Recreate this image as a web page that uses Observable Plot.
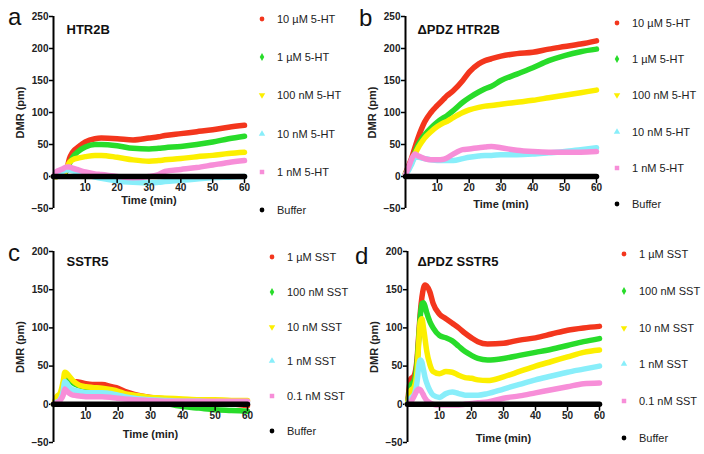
<!DOCTYPE html>
<html>
<head>
<meta charset="utf-8">
<script src="https://cdn.jsdelivr.net/npm/d3@7"></script>
<script src="https://cdn.jsdelivr.net/npm/@observablehq/plot@0.6"></script>
<style>
  body { margin: 0; background: #fff; }
  #root { position: relative; width: 704px; height: 454px; background: #fff; font-family: "Liberation Sans", Arial, sans-serif; overflow: hidden; }
  .pane { position: absolute; }
  .letter { position: absolute; font-size: 24px; line-height: 24px; color: #111; }
  .legend { position: absolute; font-size: 11px; color: #222; }
  .legend .item { display: flex; align-items: center; white-space: nowrap; }
  .legend svg { margin-right: 10px; }
</style>
</head>
<body>
<div id="root"></div>
<script>
// ---------- data ----------
const xTicks = [10, 20, 30, 40, 50, 60];
const yTicksAB = [-50, 0, 50, 100, 150, 200, 250];
const yTicksCD = [-50, 0, 50, 100, 150, 200];
const bufferTimes = [0, 60];
const bufferValues = [0, 0];

// panel a: HTR2B
const tA      = [0, 1, 2, 3, 4, 5, 6, 8, 10, 13, 15, 20, 25, 30, 33, 35, 40, 45, 50, 55, 60];
const a10uM   = [0, 0, 1, 3, 8, 28, 38, 47, 54, 59, 60, 59, 57, 60, 62, 64, 67, 70, 73, 77, 80];
const a1uM    = [0, 0, 1, 3, 9, 20, 30, 40, 46, 50, 50, 48, 44, 43, 44, 45, 47, 50, 54, 59, 63];
const a100nM  = [0, 0, 1, 3, 12, 22, 26, 29, 31, 33, 33, 30, 26, 24, 25, 26, 28, 31, 33, 36, 38];
const a10nM   = [0, 2, 5, 8, 10, 10, 9, 6, 3, -1, -3, -7, -9, -10, -9, -8, -6, -4, -2, -1, 0];
const a1nM    = [0, 8, 10, 12, 15, 15, 13, 10, 7, 4, 3, 0, -2, 0, 3, 8, 11, 14, 18, 22, 25];

// panel b: ΔPDZ HTR2B
const tB      = [0, 1, 2, 3, 4, 5, 6, 8, 10, 12, 13, 15, 18, 20, 23, 25, 27, 30, 35, 40, 45, 50, 55, 60];
const b10uM   = [5, 17, 30, 46, 61, 74, 85, 100, 111, 121, 126, 134, 150, 163, 176, 181, 184, 188, 192, 194, 199, 203, 207, 212];
const b1uM    = [4, 14, 25, 38, 50, 58, 65, 76, 85, 92, 95, 103, 116, 123, 132, 137, 141, 150, 160, 170, 181, 189, 195, 199];
const b100nM  = [4, 12, 22, 35, 45, 53, 60, 70, 78, 84, 86, 92, 100, 104, 108, 110, 111, 113, 116, 119, 123, 127, 131, 135];
const b10nM   = [3, 10, 20, 30, 30, 29, 28, 26, 25, 25, 25, 25, 28, 30, 32, 33, 33, 34, 34, 35, 37, 39, 42, 45];
const b1nM    = [3, 15, 28, 35, 32, 30, 28, 26, 26, 27, 29, 35, 42, 43, 45, 46, 47, 45, 41, 39, 38, 38, 38, 39];

// panel c: SSTR5
const tC      = [0, 1, 2, 3, 3.5, 4, 5, 6, 8, 10, 12, 15, 18, 20, 22, 25, 30, 35, 40, 45, 50, 55, 60];
const c1uM    = [0, 3, 8, 25, 35, 36, 33, 30, 29, 27, 26, 26, 23, 21, 17, 13, 9, 7, 5, 4, 3, 1, -2];
const c100nM  = [0, 3, 8, 25, 36, 36, 32, 28, 24, 22, 21, 20, 18, 15, 12, 10, 6, 1, -3, -5, -7, -8, -9];
const c10nM   = [0, 10, 14, 30, 42, 41, 36, 31, 25, 23, 22, 21, 19, 17, 14, 12, 9, 8, 7, 6, 6, 5, 5];
const c1nM    = [0, 3, 6, 18, 30, 28, 22, 19, 17, 15, 15, 15, 14, 12, 10, 8, 6, 5, 4, 4, 3, 3, 3];
const c01nM   = [0, 2, 5, 12, 20, 18, 14, 12, 11, 10, 10, 10, 9, 8, 7, 6, 5, 4, 4, 4, 4, 4, 4];

// panel d: ΔPDZ SSTR5
const tD      = [0, 1, 2, 3, 3.5, 4, 4.5, 5, 5.5, 6, 7, 8, 10, 12, 14, 16, 18, 20, 22, 25, 30, 35, 40, 45, 50, 55, 60];
const d1uM    = [0, 33, 37, 60, 90, 120, 140, 152, 156, 155, 147, 132, 118, 112, 106, 100, 93, 87, 82, 79, 80, 84, 87, 92, 97, 100, 102];
const d100nM  = [0, 25, 30, 55, 85, 115, 132, 133, 128, 120, 108, 100, 90, 87, 83, 76, 69, 64, 60, 58, 60, 64, 68, 72, 77, 82, 86];
const d10nM   = [0, 18, 22, 45, 80, 108, 112, 100, 85, 70, 52, 43, 40, 43, 42, 38, 35, 34, 32, 31, 36, 43, 50, 56, 62, 68, 71];
const d1nM    = [0, 8, 12, 30, 50, 58, 55, 45, 35, 28, 18, 12, 9, 14, 16, 14, 12, 12, 12, 14, 20, 26, 32, 37, 42, 46, 50];
const d01nM   = [0, 3, 10, 18, 20, 19, 16, 12, 8, 5, 2, 0, -1, -1, -1, -1, 0, 1, 2, 3, 8, 11, 15, 19, 23, 27, 28];

const labelsHT = ["10 µM 5-HT", "1 µM 5-HT", "100 nM 5-HT", "10 nM 5-HT", "1 nM 5-HT", "Buffer"];
const labelsSST = ["1 µM SST", "100 nM SST", "10 nM SST", "1 nM SST", "0.1 nM SST", "Buffer"];
const colors = ["#f3361d", "#28dc2a", "#fcef00", "#88eefa", "#f78ed8", "#000000"];
const symbols = [d3.symbolCircle, d3.symbolDiamond, "tridown", d3.symbolTriangle, d3.symbolSquare, d3.symbolCircle];

// ---------- drawing ----------
const root = document.getElementById("root");
const FONT = "'Liberation Sans', Arial, sans-serif";
const tickShape = { draw(context, l) { context.moveTo(0, 0); context.lineTo(0, -l); } };

function makePanel(cfg) {
  const series = cfg.values.map((vals, i) => ({ times: cfg.times, vals, color: colors[i] }));
  const lineMarks = series.map(s =>
    Plot.line(s.times.map((t, j) => ({ t, v: s.vals[j] })), {
      x: "t", y: "v", stroke: s.color, strokeWidth: 5.5, strokeLinecap: "round", strokeLinejoin: "round", curve: "monotone-x"
    })
  );
  const plot = Plot.plot({
    width: cfg.width, height: cfg.height,
    marginLeft: cfg.ml, marginRight: cfg.mr, marginTop: cfg.mt, marginBottom: cfg.mb,
    x: { domain: [0, 60], axis: null },
    y: { domain: cfg.yDomain, axis: null },
    style: { fontFamily: FONT, fontSize: "10px", color: "#222", background: "transparent", overflow: "visible" },
    marks: [
      Plot.axisY({ ticks: cfg.yTicks, tickSize: 4, tickPadding: 1, fontWeight: "bold", label: null, stroke: "#000", strokeWidth: 1.5 }),
      ...lineMarks,
      Plot.ruleY([0], { stroke: "#000", strokeWidth: 2 }),
      Plot.line(bufferTimes.map((t, j) => ({ t, v: bufferValues[j] })), { x: "t", y: "v", stroke: "#000", strokeWidth: 5.5 }),
      Plot.vector(xTicks, { x: d => d, y: 0, length: 6, rotate: 180, anchor: "start", shape: tickShape, stroke: "#000", strokeWidth: 1.5 }),
      Plot.text(xTicks, { x: d => d, y: 0, dy: 11, text: d => String(d), fontWeight: "bold", fill: "#222" }),
      Plot.ruleX([0], { stroke: "#000", strokeWidth: 2 }),
      Plot.text(["Time (min)"], { frameAnchor: "bottom", dy: cfg.xLabelDy, textAnchor: "middle", lineAnchor: "middle", fontWeight: "bold", fontSize: 11, fill: "#222" }),
      Plot.text(["DMR (pm)"], { frameAnchor: "left", dx: -33, rotate: -90, textAnchor: "middle", lineAnchor: "middle", fontWeight: "bold", fontSize: 11, fill: "#222" }),
      Plot.text([cfg.title], { frameAnchor: "top-left", dx: cfg.titleDx, dy: cfg.titleDy, textAnchor: "start", lineAnchor: "middle", fontWeight: "bold", fontSize: 13, fill: "#111" })
    ]
  });
  const pane = document.createElement("div");
  pane.className = "pane";
  pane.style.left = cfg.left + "px";
  pane.style.top = cfg.top + "px";
  pane.appendChild(plot);
  root.appendChild(pane);

  // panel letter
  const letter = document.createElement("div");
  letter.className = "letter";
  letter.textContent = cfg.letter;
  letter.style.left = cfg.letterX + "px";
  letter.style.top = cfg.letterY + "px";
  root.appendChild(letter);

  // legend
  const leg = document.createElement("div");
  leg.className = "legend";
  leg.style.left = (cfg.legX - 5) + "px";
  leg.style.top = (cfg.legY - cfg.legGap / 2) + "px";
  cfg.labels.forEach((lab, i) => {
    const item = document.createElement("div");
    item.className = "item";
    item.style.height = cfg.legGap + "px";
    const svg = d3.create("svg").attr("width", 10).attr("height", 10);
    const sym = symbols[i];
    const g = svg.append("g").attr("transform", sym === "tridown" ? "translate(5,5) rotate(180)" : "translate(5,5)");
    g.append("path")
      .attr("d", d3.symbol(sym === "tridown" ? d3.symbolTriangle : sym, sym === d3.symbolSquare ? 20 : 18)())
      .attr("fill", colors[i]);
    item.appendChild(svg.node());
    const span = document.createElement("span");
    span.textContent = lab;
    item.appendChild(span);
    leg.appendChild(item);
  });
  root.appendChild(leg);
}

makePanel({
  left: 0, top: 0, width: 260, height: 225, ml: 53, mr: 16, mt: 16, mb: 17,
  yDomain: [-50, 250], yTicks: yTicksAB, times: tA, values: [a10uM, a1uM, a100nM, a10nM, a1nM],
  title: "HTR2B", titleDx: 13, titleDy: 13, xLabelDy: -8,
  letter: "a", letterX: 8, letterY: 5,
  labels: labelsHT, legX: 262, legY: 19, legGap: 38.2
});
makePanel({
  left: 352, top: 0, width: 260, height: 225, ml: 53, mr: 16, mt: 16, mb: 17,
  yDomain: [-50, 250], yTicks: yTicksAB, times: tB, values: [b10uM, b1uM, b100nM, b10nM, b1nM],
  title: "ΔPDZ HTR2B", titleDx: 12, titleDy: 13, xLabelDy: -4,
  letter: "b", letterX: 359, letterY: 6,
  labels: labelsHT, legX: 617, legY: 23, legGap: 36.2
});
makePanel({
  left: 0, top: 225, width: 265, height: 229, ml: 53, mr: 18, mt: 26, mb: 12,
  yDomain: [-50, 200], yTicks: yTicksCD, times: tC, values: [c1uM, c100nM, c10nM, c1nM, c01nM],
  title: "SSTR5", titleDx: 13, titleDy: 10, xLabelDy: -8,
  letter: "c", letterX: 8, letterY: 241,
  labels: labelsSST, legX: 272, legY: 257, legGap: 34.8
});
makePanel({
  left: 352, top: 225, width: 265, height: 229, ml: 55, mr: 18, mt: 26, mb: 12,
  yDomain: [-50, 200], yTicks: yTicksCD, times: tD, values: [d1uM, d100nM, d10nM, d1nM, d01nM],
  title: "ΔPDZ SSTR5", titleDx: 10, titleDy: 10, xLabelDy: -4,
  letter: "d", letterX: 355, letterY: 244,
  labels: labelsSST, legX: 624, legY: 254, legGap: 36.8
});
</script>
</body>
</html>
